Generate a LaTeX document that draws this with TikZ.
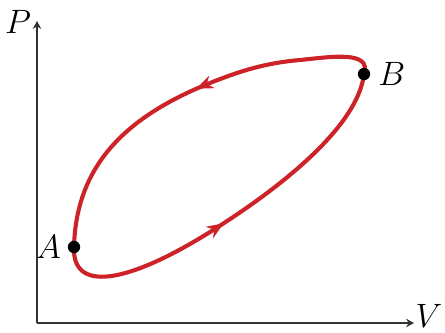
\documentclass[tikz,border=0pt]{standalone}
\usepackage{xcolor}
\usepackage{tikz}
\usetikzlibrary{arrows.meta,decorations.markings,positioning}
\definecolor{cyclered}{RGB}{205,35,40}

\begin{document}
\begin{tikzpicture}[x=0.355pt, y=-0.355pt, every node/.style={font=\fontsize{11.5}{14}\selectfont}, axis/.style={-{Stealth[length=2.8pt, width=3pt]}, line width=0.45pt, black!80}, cycle/.style={cyclered, line width=1.45pt, postaction={decorate}, decoration={markings, mark=at position 0.23 with {\arrow{Stealth[length=6pt, width=4.8pt, inset=2pt]}}, mark=at position 0.73 with {\arrow{Stealth[length=6pt, width=4.8pt, inset=2pt]}}}}, state/.style={circle, fill=black, inner sep=0pt, minimum size=4.4pt}]
\useasboundingbox (0,0) rectangle (445,332);
\coordinate (o) at (37,323);
\coordinate (ptop) at (37,21);
\coordinate (vend) at (414,323);
\draw[axis] (o) -- (ptop);
\draw[axis] (o) -- (vend);
\node (p) at (18,22) {$P$};
\node[inner sep=0pt] (v) at (429,316) {$V$};
\coordinate (a) at (74,247);
\coordinate (b) at (364,74);
\draw[cycle] (a) .. controls (72,292) and (125,285) .. (210,232) .. controls (285,185) and (358,125) .. (b) .. controls (372,50) and (330,57) .. (300,60) .. controls (265,63) and (240,71) .. (210,83) .. controls (120,119) and (76,170) .. (a);
\node[state] (na) at (a) {};
\node[state] (nb) at (b) {};
\node[left=2pt of na, inner sep=0pt] (la) {$A$};
\node[right=2.5pt of nb, inner sep=0pt] (lb) {$B$};
\end{tikzpicture}
\end{document}
